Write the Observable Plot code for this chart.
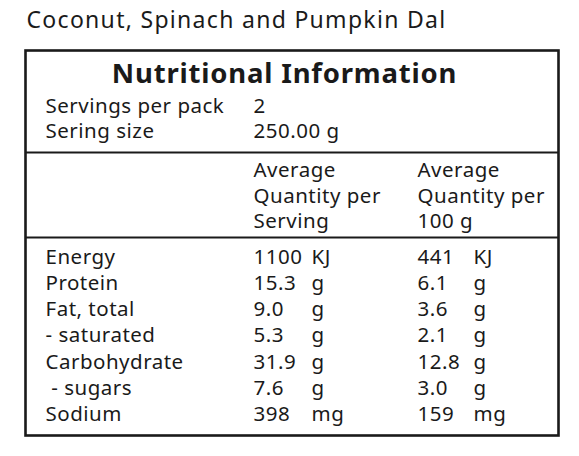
<!DOCTYPE html>
<html><head><meta charset="utf-8">
<script src="https://cdn.jsdelivr.net/npm/d3@7"></script>
<script src="https://cdn.jsdelivr.net/npm/@observablehq/plot@0.6"></script>
<style>
html,body{margin:0;padding:0;background:#fff;} svg{display:block;}
#chart g[font-size="20.5"] text{letter-spacing:0.5px;}
#chart g[font-size="23"] text{letter-spacing:1.3px;}
#chart g[font-size="27.5"] text{letter-spacing:0.8px;}
</style>
</head><body><div id="chart"></div>
<script>
// ---- data ----
const title = "Coconut, Spinach and Pumpkin Dal";
const heading = "Nutritional Information";
const packLabels = ["Servings per pack", "Sering size"];
const packValues = ["2", "250.00 g"];
const columnHeaders = ["Average\nQuantity per\nServing", "Average\nQuantity per\n100 g"];
const nutrients = ["Energy", "Protein", "Fat, total", "- saturated", "Carbohydrate", " - sugars", "Sodium"];
const perServing = [1100, 15.3, 9.0, 5.3, 31.9, 7.6, 398];
const per100g = [441, 6.1, 3.6, 2.1, 12.8, 3.0, 159];
const units = ["KJ", "g", "g", "g", "g", "g", "mg"];

// ---- layout (pixels) ----
const W = 579, H = 456;
const FONT = "'Noto Sans', 'Open Sans', sans-serif";
const INK = "#1a1a1a";
const BODY = 20.5;
const col = {label: 45, serv: 253, servUnit: 311, per100: 417, per100Unit: 473};
const rowY0 = 263, rowStep = 26.3;
const headY0 = 176.5, headStep = 25.6;
const packY0 = 112, packStep = 25.5;
const fmt = (v, u) => (u === "g" ? v.toFixed(1) : String(v));
const keep = s => s.replace(/^ /, "\u00a0");

const rows = nutrients.map((name, i) => ({
  name, i, serv: fmt(perServing[i], units[i]), per100: fmt(per100g[i], units[i]), unit: units[i]
}));
const pack = packLabels.map((label, i) => ({label, value: packValues[i], i}));
const headerLines = columnHeaders.flatMap((h, c) => h.split("\n").map((line, j) => ({line, c, j})));

const common = {fontFamily: FONT, fill: INK, textAnchor: "start", lineAnchor: "bottom"};
const rowY = d => rowY0 + d.i * rowStep;
const packY = d => packY0 + d.i * packStep;

const chart = Plot.plot({
  width: W, height: H,
  margin: 0,
  x: {domain: [0, W], range: [0, W], axis: null},
  y: {domain: [0, H], range: [0, H], axis: null},
  marks: [
    Plot.frame({insetLeft: 25, insetTop: 50, insetRight: 21, insetBottom: 21, stroke: INK, strokeWidth: 2.6}),
    Plot.ruleY([152, 237], {insetLeft: 25, insetRight: 21, stroke: INK, strokeWidth: 2.2}),
    Plot.text([title], {...common, x: () => 26, y: () => 27, text: d => d, fontSize: 23}),
    Plot.text([heading], {...common, textAnchor: "middle", x: () => 284, y: () => 82, text: d => d, fontSize: 27.5, fontWeight: "bold"}),
    Plot.text(pack, {...common, x: () => col.label, y: packY, text: "label", fontSize: BODY}),
    Plot.text(pack, {...common, x: () => col.serv, y: packY, text: "value", fontSize: BODY}),
    Plot.text(headerLines, {...common, x: d => d.c === 0 ? col.serv : col.per100, y: d => headY0 + d.j * headStep, text: "line", fontSize: BODY}),
    Plot.text(rows, {...common, x: () => col.label, y: rowY, text: d => keep(d.name), fontSize: BODY}),
    Plot.text(rows, {...common, x: () => col.serv, y: rowY, text: "serv", fontSize: BODY}),
    Plot.text(rows, {...common, x: () => col.servUnit, y: rowY, text: "unit", fontSize: BODY}),
    Plot.text(rows, {...common, x: () => col.per100, y: rowY, text: "per100", fontSize: BODY}),
    Plot.text(rows, {...common, x: () => col.per100Unit, y: rowY, text: "unit", fontSize: BODY})
  ]
});
document.getElementById("chart").appendChild(chart);
</script>
</body></html>
